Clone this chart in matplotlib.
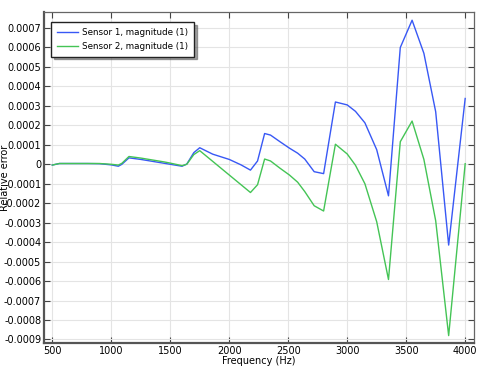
import matplotlib
matplotlib.use("Agg")
import matplotlib.pyplot as plt
from matplotlib.ticker import MultipleLocator, FuncFormatter

freq = [500, 560, 700, 800, 900, 1000, 1060, 1090, 1150, 1250, 1350, 1450, 1500,
        1600, 1640, 1700, 1750, 1860, 2000, 2100, 2180, 2240, 2300, 2350, 2430,
        2510, 2580, 2640, 2720, 2800, 2900, 3000, 3070, 3150, 3250, 3350, 3450,
        3550, 3650, 3750, 3860, 4000]

sensor1 = [-0.000004, 0.000004, 0.000004, 0.000004, 0.000003, -0.000003, -0.00001,
           0.0, 0.000033, 0.000025, 0.000015, 0.000005, 0.0, -0.00001, 0.000001,
           0.00006, 0.000085, 0.000052, 0.000025, -0.000003, -0.00003, 0.000017,
           0.000158, 0.00015, 0.000116, 0.000083, 0.000057, 0.000027, -0.000038,
           -0.000048, 0.00032, 0.000305, 0.000272, 0.000213, 0.000075, -0.000162,
           0.0006, 0.00074, 0.00057, 0.00027, -0.000415, 0.000338]

sensor2 = [-0.000004, 0.000004, 0.000004, 0.000004, 0.000004, 0.0, -0.000004,
           0.000005, 0.00004, 0.000032, 0.000022, 0.000012, 0.000006, -0.000007,
           0.0, 0.00005, 0.00007, 0.000015, -0.000055, -0.000105, -0.000145,
           -0.000105, 0.000027, 0.000017, -0.00002, -0.000055, -0.000092, -0.00014,
           -0.000213, -0.00024, 0.000103, 0.000053, -0.000005, -0.0001, -0.000295,
           -0.000592, 0.000116, 0.000222, 0.000025, -0.00029, -0.00088, 0.000003]

labels = ["Sensor 1, magnitude (1)", "Sensor 2, magnitude (1)"]

plt.rcParams['font.family'] = ['DejaVu Sans']
fig = plt.figure(figsize=(4.81, 3.71), dpi=100)
ax = fig.add_axes([0.0915, 0.0755, 0.894, 0.892])

ax.plot(freq, sensor1, color='#3858f5', lw=1.0, label=labels[0])
ax.plot(freq, sensor2, color='#44c455', lw=1.0, label=labels[1])

ax.set_xlim(430, 4075)
ax.set_ylim(-0.000918, 0.000782)
ax.xaxis.set_major_locator(MultipleLocator(500))
ax.yaxis.set_major_locator(MultipleLocator(0.0001))

def yfmt(v, pos):
    if abs(v) < 1e-12:
        return "0"
    return "%.4f" % v
ax.yaxis.set_major_formatter(FuncFormatter(yfmt))

ax.grid(True, color='#e4e4e4', lw=0.8)
ax.set_axisbelow(True)
ax.tick_params(direction='in', length=4, width=0.8, color='#444444',
               labelsize=7, top=True, right=True, labeltop=False, labelright=False, pad=2)

for s in ['left', 'bottom']:
    ax.spines[s].set_color('#555555')
    ax.spines[s].set_linewidth(1.6)
for s in ['top', 'right']:
    ax.spines[s].set_color('#666666')
    ax.spines[s].set_linewidth(0.9)

ax.set_xlabel("Frequency (Hz)", fontsize=7, labelpad=0)
ax.set_ylabel("Relative error", fontsize=7)
ax.yaxis.set_label_coords(-0.078, 0.5)

leg = ax.legend(loc='upper left', bbox_to_anchor=(0.016, 0.97), fontsize=6.3,
                frameon=True, fancybox=False, shadow=True, borderpad=0.65,
                handlelength=2.4, handletextpad=0.5, labelspacing=0.6,
                borderaxespad=0.0)
leg.get_frame().set_edgecolor('#222222')
leg.get_frame().set_linewidth(1.0)

fig.savefig("out.png", dpi=100)
